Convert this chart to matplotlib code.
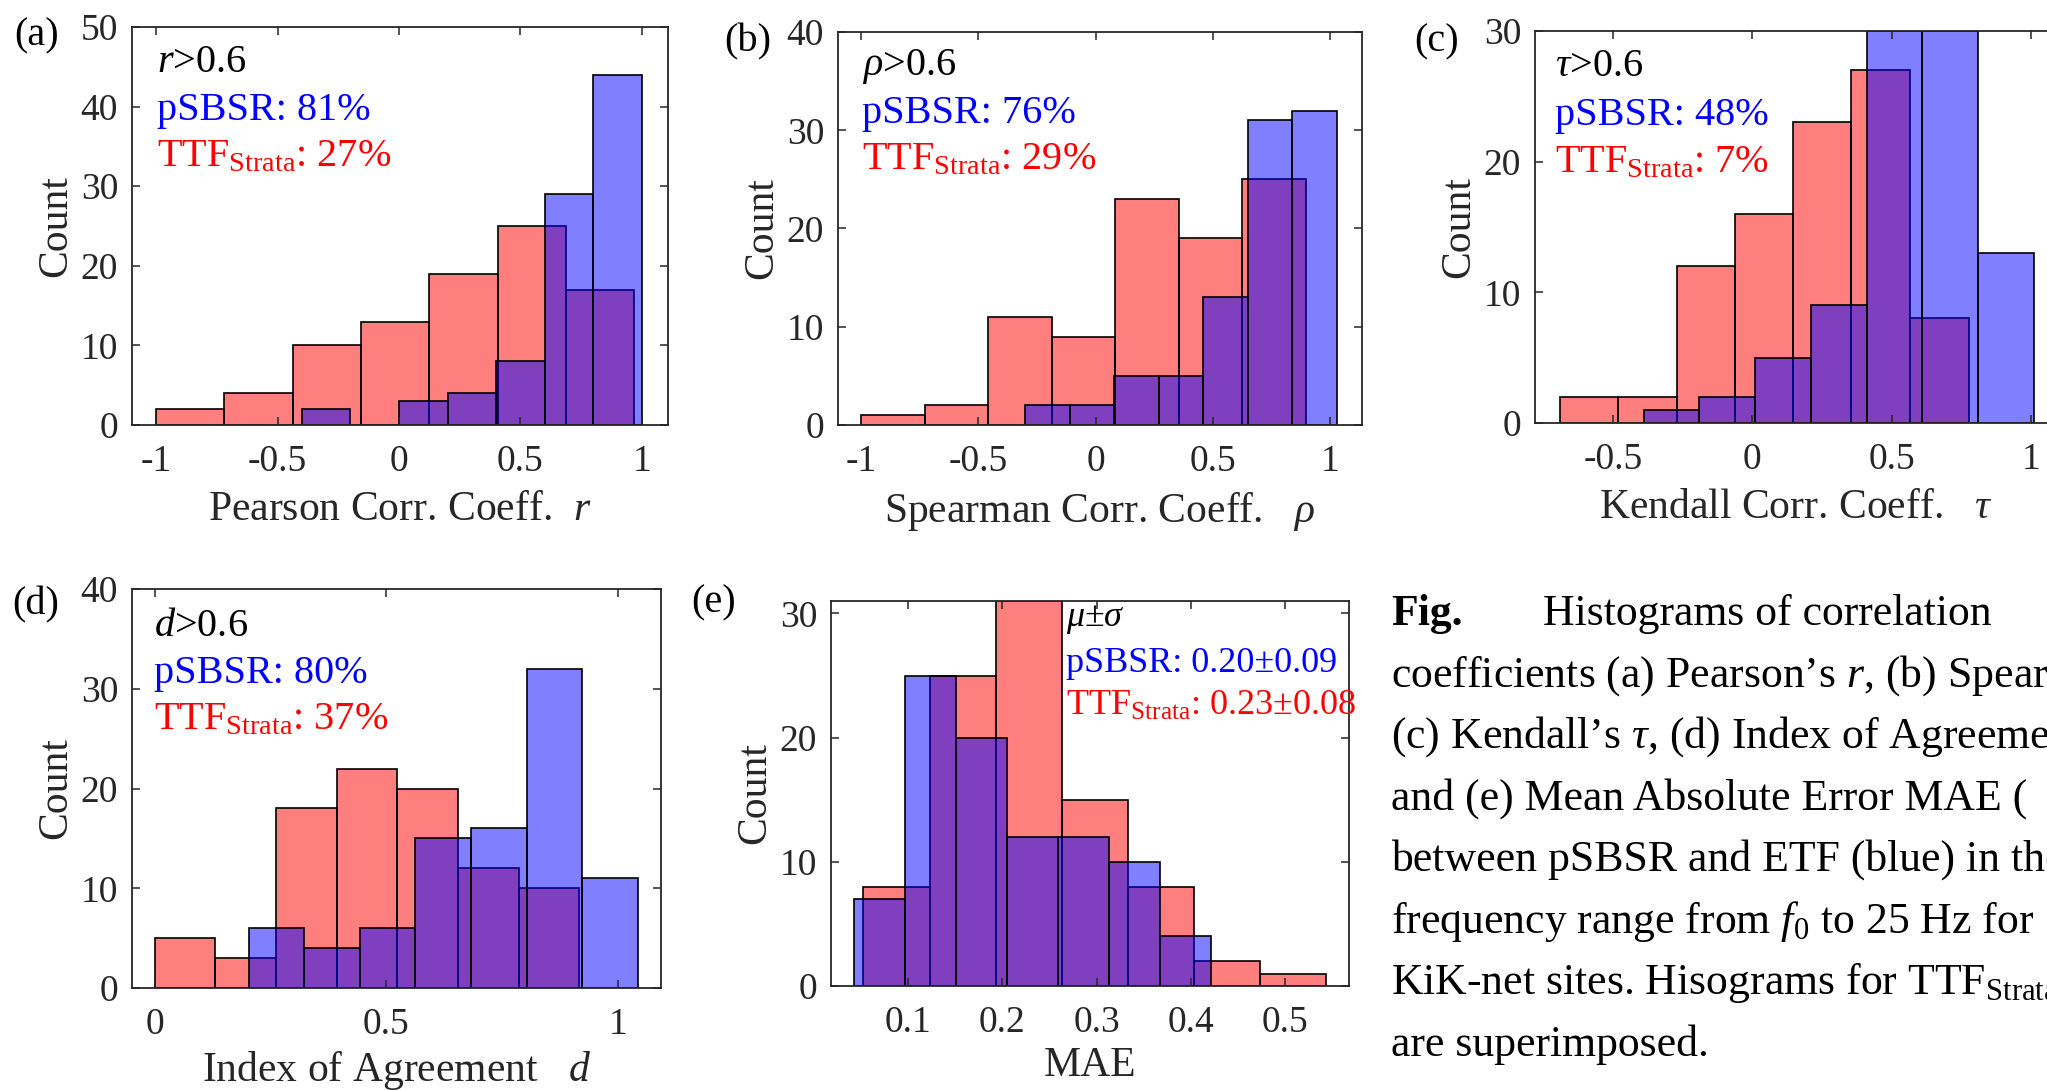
import numpy as np
import matplotlib
matplotlib.use("Agg")
import matplotlib.pyplot as plt
from matplotlib.ticker import FixedLocator, FuncFormatter

# ── data ───────────────────────────────────────────────────────
pearson_ttf_edges = [-1.0, -0.719, -0.438, -0.156, 0.125, 0.406, 0.688, 0.969]
pearson_ttf_counts = [2, 4, 10, 13, 19, 25, 17]
pearson_sbsr_edges = [-0.4, -0.2, 0.0, 0.2, 0.4, 0.6, 0.8, 1.0]
pearson_sbsr_counts = [2, 0, 3, 4, 8, 29, 44]

spearman_ttf_edges = [-1.0, -0.729, -0.458, -0.187, 0.084, 0.355, 0.626, 0.897]
spearman_ttf_counts = [1, 2, 11, 9, 23, 19, 25]
spearman_sbsr_edges = [-0.301, -0.111, 0.079, 0.270, 0.460, 0.650, 0.840, 1.030]
spearman_sbsr_counts = [2, 2, 5, 5, 13, 31, 32]

kendall_ttf_edges = [-0.69, -0.481, -0.272, -0.063, 0.146, 0.355, 0.566, 0.776]
kendall_ttf_counts = [2, 2, 12, 16, 23, 27, 8]
kendall_sbsr_edges = [-0.39, -0.19, 0.01, 0.21, 0.41, 0.61, 0.81, 1.01]
kendall_sbsr_counts = [1, 2, 5, 9, 30, 30, 13]

agree_ttf_edges = [0.0, 0.131, 0.262, 0.393, 0.524, 0.655, 0.786, 0.917]
agree_ttf_counts = [5, 3, 18, 22, 20, 12, 10]
agree_sbsr_edges = [0.203, 0.323, 0.443, 0.563, 0.683, 0.803, 0.923, 1.043]
agree_sbsr_counts = [6, 4, 6, 15, 16, 32, 11]

mae_ttf_edges = [0.053, 0.123, 0.193, 0.263, 0.333, 0.403, 0.473, 0.543]
mae_ttf_counts = [8, 25, 31, 15, 8, 2, 1]
mae_sbsr_edges = [0.043, 0.097, 0.151, 0.205, 0.259, 0.313, 0.367, 0.421]
mae_sbsr_counts = [7, 25, 20, 12, 12, 10, 4]

panel_letters = ["(a)", "(b)", "(c)", "(d)", "(e)"]
x_labels = [
    r"Pearson Corr. Coeff.  $r$",
    r"Spearman Corr. Coeff.   $\rho$",
    r"Kendall Corr. Coeff.   $\tau$",
    r"Index of Agreement   $d$",
    "MAE",
]
x_ticks = [
    [-1, -0.5, 0, 0.5, 1],
    [-1, -0.5, 0, 0.5, 1],
    [-0.5, 0, 0.5, 1],
    [0, 0.5, 1],
    [0.1, 0.2, 0.3, 0.4, 0.5],
]
x_limits = [(-1.10, 1.108), (-1.10, 1.138), (-0.78, 1.09), (-0.049, 1.093), (0.0186, 0.5676)]
y_limits = [50, 40, 30, 40, 31]
y_steps = [10, 10, 10, 10, 10]

header_lines = [r"$r$>0.6", r"$\rho$>0.6", r"$\tau$>0.6", r"$d$>0.6", r"$\mu$±$\sigma$"]
sbsr_lines = ["pSBSR: 81%", "pSBSR: 76%", "pSBSR: 48%", "pSBSR: 80%", "pSBSR: 0.20±0.09"]
ttf_lines = [r"TTF$_{\mathrm{Strata}}$: 27%", r"TTF$_{\mathrm{Strata}}$: 29%",
             r"TTF$_{\mathrm{Strata}}$: 7%", r"TTF$_{\mathrm{Strata}}$: 37%",
             r"TTF$_{\mathrm{Strata}}$: 0.23±0.08"]

caption_lines = [
    r"coefficients (a) Pearson’s $r$, (b) Spearman’s $\rho$,",
    r"(c) Kendall’s $\tau$, (d) Index of Agreement $d$,",
    r"and (e) Mean Absolute Error MAE (",
    r"between pSBSR and ETF (blue) in the",
    r"frequency range from $f_0$ to 25 Hz for",
    r"KiK-net sites. Hisograms for TTF$_{\mathrm{Strata}}$",
    r"are superimposed.",
]

hist_sets = [
    (pearson_ttf_edges, pearson_ttf_counts, pearson_sbsr_edges, pearson_sbsr_counts),
    (spearman_ttf_edges, spearman_ttf_counts, spearman_sbsr_edges, spearman_sbsr_counts),
    (kendall_ttf_edges, kendall_ttf_counts, kendall_sbsr_edges, kendall_sbsr_counts),
    (agree_ttf_edges, agree_ttf_counts, agree_sbsr_edges, agree_sbsr_counts),
    (mae_ttf_edges, mae_ttf_counts, mae_sbsr_edges, mae_sbsr_counts),
]

# ── style ──────────────────────────────────────────────────────
plt.rcParams["font.family"] = ["Liberation Serif", "DejaVu Serif"]
plt.rcParams["mathtext.fontset"] = "custom"
plt.rcParams["mathtext.rm"] = "Liberation Serif"
plt.rcParams["mathtext.it"] = "Liberation Serif:italic"
plt.rcParams["mathtext.bf"] = "Liberation Serif:bold"
plt.rcParams["axes.unicode_minus"] = False

W, H = 2047, 1090
AX_GREY = "#262626"
TICK_FS = 27
LABEL_FS = 30
NOTE_FS = 29

fig = plt.figure(figsize=(W / 100, H / 100), dpi=100)
fig.patch.set_facecolor("white")

# axes boxes in pixels: left, top, right, bottom
boxes = [
    (132, 27, 668, 425),
    (838, 32, 1362, 425),
    (1535, 31, 2056, 423),
    (132, 589, 661, 988),
    (831, 601, 1349, 986),
]
# annotation anchors (px): x, first line centre y, line step, font size
notes = [
    (157, 63, 47, NOTE_FS),
    (862, 66, 47, NOTE_FS),
    (1555, 67, 48, NOTE_FS),
    (154, 626, 47, NOTE_FS),
    (1066, 620, 43, 26),
]
letter_pos = [(14, 36), (724, 42), (1414, 42), (12, 605), (691, 603)]
xlabel_pads = [8, 8, 8, 5, 5]


def px_to_fig(x, y):
    return x / W, 1 - y / H


for i, (l, t, r, b) in enumerate(boxes):
    ax = fig.add_axes([l / W, 1 - b / H, (r - l) / W, (b - t) / H])
    red_e, red_c, blue_e, blue_c = hist_sets[i]
    ax.bar(red_e[:-1], red_c, width=np.diff(red_e), align="edge",
           facecolor=(1, 0, 0, 0.5), edgecolor="black", linewidth=1.2)
    ax.bar(blue_e[:-1], blue_c, width=np.diff(blue_e), align="edge",
           facecolor=(0, 0, 1, 0.5), edgecolor="black", linewidth=1.2)

    ax.set_xlim(*x_limits[i])
    ax.set_ylim(0, y_limits[i])
    ax.xaxis.set_major_locator(FixedLocator(x_ticks[i]))
    ax.yaxis.set_major_locator(FixedLocator(np.arange(0, y_limits[i] + 1, y_steps[i])))
    fmt = FuncFormatter(lambda v, p: "%g" % v)
    ax.xaxis.set_major_formatter(fmt)
    ax.yaxis.set_major_formatter(fmt)
    ax.tick_params(direction="in", top=True, right=True, length=6, width=1.1,
                   colors=AX_GREY, labelsize=TICK_FS)
    ax.tick_params(axis="x", pad=14)
    ax.tick_params(axis="y", pad=10)
    for s in ax.spines.values():
        s.set_color(AX_GREY)
        s.set_linewidth(1.3)

    ax.set_xlabel(x_labels[i], fontsize=LABEL_FS, color=AX_GREY, labelpad=xlabel_pads[i])
    ax.set_ylabel("Count", fontsize=LABEL_FS, color=AX_GREY, labelpad=4)

    nx, ny, step, fs = notes[i]
    fig.text(*px_to_fig(nx, ny), header_lines[i], fontsize=fs, color="black", va="center")
    fig.text(*px_to_fig(nx, ny + step), sbsr_lines[i], fontsize=fs, color="#0000FF", va="center")
    fig.text(*px_to_fig(nx, ny + 2 * step), ttf_lines[i], fontsize=fs, color="#FF0000", va="center")

    lx, ly = letter_pos[i]
    fig.text(*px_to_fig(lx, ly), panel_letters[i], fontsize=29, color="black", va="center")

# caption block
CAP_FS = 31.5
cap_x, cap_y, cap_step = 1391, 614, 61.5
fig.text(*px_to_fig(cap_x, cap_y), "Fig.", fontsize=CAP_FS, fontweight="bold", va="center")
fig.text(*px_to_fig(1543, cap_y), "Histograms of correlation", fontsize=CAP_FS, va="center")
for k, line in enumerate(caption_lines):
    fig.text(*px_to_fig(cap_x, cap_y + (k + 1) * cap_step), line, fontsize=CAP_FS, va="center")

fig.savefig("out.png", dpi=100, facecolor="white")
